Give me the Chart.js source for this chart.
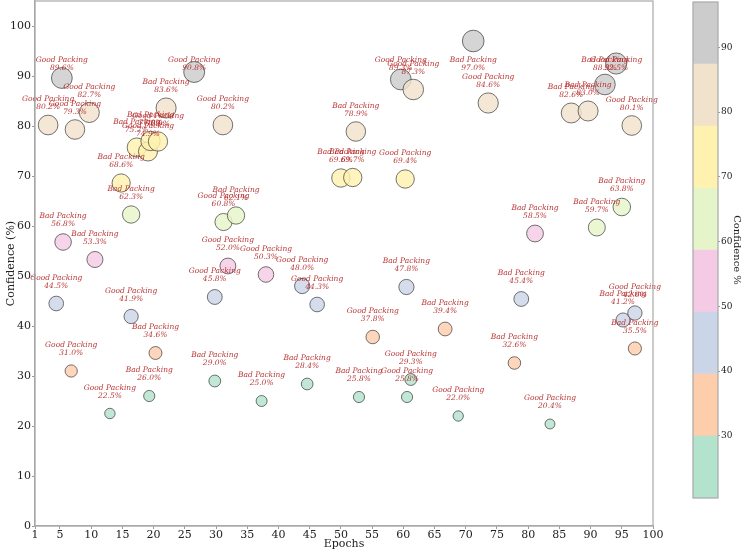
<!DOCTYPE html>
<html>
<head>
<meta charset="utf-8">
<script src="https://cdn.jsdelivr.net/npm/chart.js@4.4.1/dist/chart.umd.min.js"></script>
<style>
    body { margin: 0; background: #fff; }
    #wrap { position: relative; width: 743px; height: 551px; }
    #main { position: absolute; left: 0; top: 0; }
    #cbar { position: absolute; left: 660px; top: 0; }
</style>
</head>
<body>
<div id="wrap">
    <canvas id="main" width="743" height="551"></canvas>
    <canvas id="cbar" width="83" height="551"></canvas>
</div>
<script>
// values
const epochs = [5.3, 26.5, 9.7, 3.1, 7.4, 22.0, 31.1, 17.3, 19.1, 19.5, 20.7, 14.8, 16.4, 5.5, 10.6,
    4.4, 16.4, 20.3, 6.8, 19.3, 13.0, 29.8, 29.8, 31.2, 33.2, 31.9, 38.0, 43.8, 46.2, 60.5,
    55.1, 66.7, 44.6, 37.3, 52.9, 60.6, 61.2, 68.8, 83.5, 81.1, 91.0, 95.0, 78.9, 77.8, 95.2,
    97.1, 97.1, 50.0, 51.9, 60.3, 52.4, 59.6, 61.6, 71.2, 73.6, 86.9, 89.6, 92.3, 94.1, 96.6];
const confidence = [89.6, 90.8, 82.7, 80.2, 79.3, 83.6, 80.2, 75.7, 74.9, 77.0, 76.9, 68.6, 62.3, 56.8, 53.3,
    44.5, 41.9, 34.6, 31.0, 26.0, 22.5, 29.0, 45.8, 60.8, 62.1, 52.0, 50.3, 48.0, 44.3, 47.8,
    37.8, 39.4, 28.4, 25.0, 25.8, 25.8, 29.3, 22.0, 20.4, 58.5, 59.7, 63.8, 45.4, 32.6, 41.2,
    42.6, 35.5, 69.6, 69.7, 69.4, 78.9, 89.3, 87.3, 97.0, 84.6, 82.6, 83.0, 88.3, 92.5, 80.1];
const packing = ['Good', 'Good', 'Good', 'Good', 'Good', 'Bad', 'Good', 'Bad', 'Good', 'Bad', 'Good', 'Bad', 'Bad', 'Bad', 'Bad',
    'Good', 'Good', 'Bad', 'Good', 'Bad', 'Good', 'Bad', 'Good', 'Good', 'Bad', 'Good', 'Good', 'Good', 'Good', 'Bad',
    'Good', 'Bad', 'Bad', 'Bad', 'Bad', 'Good', 'Good', 'Good', 'Good', 'Bad', 'Bad', 'Bad', 'Bad', 'Bad', 'Bad',
    'Good', 'Bad', 'Bad', 'Bad', 'Good', 'Bad', 'Good', 'Good', 'Bad', 'Good', 'Bad', 'Bad', 'Bad', 'Good', 'Good'];

const xTicks = [1, 5, 10, 15, 20, 25, 30, 35, 40, 45, 50, 55, 60, 65, 70, 75, 80, 85, 90, 95, 100];
const yTicks = [0, 10, 20, 30, 40, 50, 60, 70, 80, 90, 100];
const cbarTicks = [30, 40, 50, 60, 70, 80, 90];
const cbarMin = 20.4;
const cbarMax = 97.0;
const pastel2 = ['#b3e2cd', '#fdcdac', '#cbd5e8', '#f4cae4', '#e6f5c9', '#fff2ae', '#f1e2cc', '#cccccc'];

const serif = '"DejaVu Serif", serif';
const binWidth = (cbarMax - cbarMin) / pastel2.length;

function binColor(c) {
    let i = Math.floor((c - cbarMin) / binWidth);
    if (i < 0) i = 0;
    if (i > pastel2.length - 1) i = pastel2.length - 1;
    return pastel2[i];
}

// axes box on all four sides, like the matplotlib spines
const frame = {
    id: 'frame',
    afterDraw(chart) {
        const { ctx, chartArea: a } = chart;
        ctx.save();
        ctx.strokeStyle = '#a8a8a8';
        ctx.lineWidth = 1.2;
        ctx.strokeRect(a.left, a.top, a.right - a.left, a.bottom - a.top);
        ctx.restore();
    }
};

const packingLabels = {
    id: 'packingLabels',
    afterDatasetsDraw(chart) {
        const { ctx, scales: { x, y } } = chart;
        ctx.save();
        ctx.font = 'italic 7.5px ' + serif;
        ctx.fillStyle = 'rgba(178,34,34,0.9)';
        ctx.textAlign = 'center';
        ctx.textBaseline = 'middle';
        for (let i = 0; i < epochs.length; i++) {
            const px = x.getPixelForValue(epochs[i]);
            const py = y.getPixelForValue(Math.min(confidence[i] + 4.3, 92.3));
            ctx.fillText(packing[i] + ' Packing', px, py - 4);
            ctx.fillText(confidence[i].toFixed(1) + '%', px, py + 4);
        }
        ctx.restore();
    }
};

new Chart(document.getElementById('main'), {
    type: 'bubble',
    data: {
        datasets: [{
            data: epochs.map((e, i) => ({ x: e, y: confidence[i], r: 1.1 * Math.sqrt(confidence[i]) })),
            backgroundColor: ctx => binColor(confidence[ctx.dataIndex]) + 'd0',
            borderColor: 'rgba(50,50,50,0.85)',
            borderWidth: 0.8
        }]
    },
    options: {
        responsive: false,
        animation: false,
        events: [],
        layout: { autoPadding: false, padding: { top: 1, right: 90, left: 0, bottom: 0 } },
        scales: {
            x: {
                type: 'linear',
                min: 1,
                max: 100,
                afterBuildTicks: s => { s.ticks = xTicks.map(v => ({ value: v })); },
                afterFit: s => { s.height = 25; s.paddingLeft = 0; s.paddingRight = 0; },
                ticks: { font: { family: serif, size: 11 }, color: '#222', padding: 0, maxRotation: 0, autoSkip: false },
                grid: { display: true, drawOnChartArea: false, tickLength: 3, color: '#999' },
                border: { color: '#a8a8a8', width: 1.2 },
                title: { display: true, text: 'Epochs', font: { family: serif, size: 11 }, color: '#222', padding: 0 }
            },
            y: {
                min: 0,
                max: 105,
                afterBuildTicks: s => { s.ticks = yTicks.map(v => ({ value: v })); },
                afterFit: s => { s.width = 35; s.paddingTop = 0; s.paddingBottom = 0; },
                ticks: { font: { family: serif, size: 11 }, color: '#222', padding: 1 },
                grid: { display: true, drawOnChartArea: false, tickLength: 3, color: '#999' },
                border: { color: '#a8a8a8', width: 1.2 },
                title: { display: true, text: 'Confidence (%)', font: { family: serif, size: 11 }, color: '#222', padding: { top: 5, bottom: 0 } }
            }
        },
        plugins: {
            legend: { display: false },
            tooltip: { enabled: false }
        }
    },
    plugins: [packingLabels, frame]
});

// colorbar: one floating bar per colour band
new Chart(document.getElementById('cbar'), {
    type: 'bar',
    data: {
        labels: [''],
        datasets: pastel2.map((c, i) => ({
            data: [[cbarMin + i * binWidth, cbarMin + (i + 1) * binWidth]],
            backgroundColor: c,
            borderWidth: 0,
            barPercentage: 1,
            categoryPercentage: 1,
            grouped: false
        }))
    },
    options: {
        responsive: false,
        animation: false,
        events: [],
        layout: { padding: { top: 2, bottom: 53, left: 33, right: 0 } },
        scales: {
            x: { display: false },
            y: {
                position: 'right',
                min: cbarMin,
                max: cbarMax,
                afterBuildTicks: s => { s.ticks = cbarTicks.map(v => ({ value: v })); },
                afterFit: s => { s.width = 25; s.paddingTop = 0; s.paddingBottom = 0; },
                ticks: { font: { family: serif, size: 9 }, color: '#222', padding: 1 },
                grid: { display: true, drawOnChartArea: false, tickLength: 2, color: '#999' },
                border: { display: false },
                title: { display: true, text: 'Confidence %', font: { family: serif, size: 10 }, color: '#222', padding: { top: 0, bottom: 2 } }
            }
        },
        plugins: {
            legend: { display: false },
            tooltip: { enabled: false }
        }
    },
    plugins: [frame]
});
</script>
</body>
</html>
